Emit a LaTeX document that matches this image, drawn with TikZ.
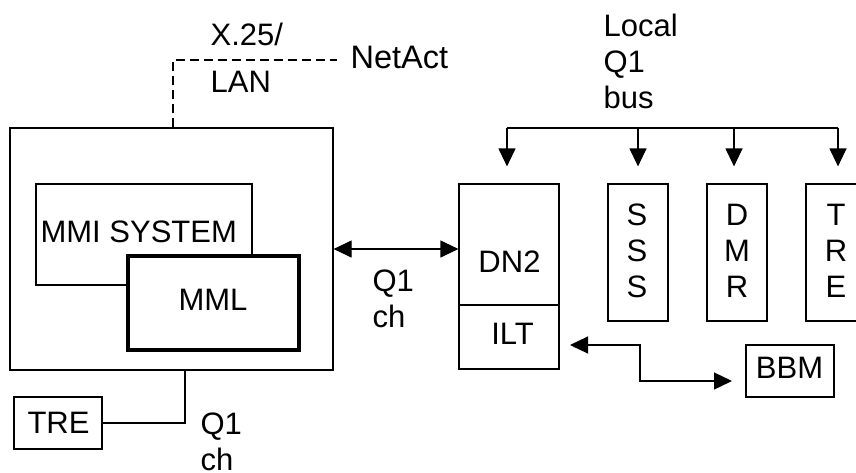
\documentclass[tikz,border=0pt]{standalone}
\usepackage{fontspec}
\setmainfont{Liberation Sans}
\usetikzlibrary{arrows.meta}

\tikzset{
  box/.style={draw, line width=1.2pt, inner sep=0pt},
  lbl/.style={inner sep=0pt, font=\fontsize{31}{36}\selectfont},
  arr/.style={-{Triangle[length=18pt, width=17pt]}},
  both/.style={{Triangle[length=18pt, width=17pt]}-{Triangle[length=18pt, width=17pt]}},
}

\begin{document}
\begin{tikzpicture}[x=1pt, y=-1pt, line width=1.2pt]
  \clip (0,0) rectangle (856,472);

  % MMI unit
  \node[box, minimum width=323pt, minimum height=242pt] (mmi) at (171.5,249) {};
  \node[box, minimum width=216pt, minimum height=101pt] (mmisys) at (144,234.5) {};
  \node[box, fill=white, line width=3.3pt, minimum width=171pt, minimum height=94pt] (mml) at (213.5,303) {};
  \node[lbl, anchor=base west] (mmisystxt) at (40,242) {MMI SYSTEM};
  \node[lbl, anchor=base] (mmltxt) at (213,310) {MML};

  % DN2 / ILT and the bus units
  \node[box, minimum width=100pt, minimum height=121pt] (dn2) at (509,244.5) {};
  \node[box, minimum width=100pt, minimum height=64pt] (ilt) at (509,337) {};
  \node[lbl, anchor=base] (dn2txt) at (509.5,272) {DN2};
  \node[lbl, anchor=base] (ilttxt) at (512.5,344) {ILT};

  \node[box, minimum width=60pt, minimum height=137pt] (sss) at (638,252.5) {};
  \node[box, minimum width=60pt, minimum height=137pt] (dmr) at (737,252.5) {};
  \node[box, minimum width=60pt, minimum height=137pt] (tre) at (836,252.5) {};
  \node[lbl, anchor=base, align=center] (ssstxt) at (637,297) {S\\S\\S};
  \node[lbl, anchor=base, align=center] (dmrtxt) at (737,297) {D\\M\\R};
  \node[lbl, anchor=base, align=center] (tretxt) at (836,297) {T\\R\\E};

  \node[box, minimum width=88pt, minimum height=52pt] (bbm) at (790,371) {};
  \node[lbl, anchor=base] (bbmtxt) at (789.5,378) {BBM};

  \node[box, minimum width=88pt, minimum height=52pt] (tre2) at (58,423) {};
  \node[lbl, anchor=base] (tre2txt) at (58.5,433) {TRE};

  % labels
  \node[lbl, anchor=base west, align=left] (lan) at (210,92) {X.25/\\[11pt]LAN};
  \node[lbl, anchor=base west, font=\fontsize{32.5}{36}\selectfont] (netact) at (350,68) {NetAct};
  \node[lbl, anchor=base west, align=left] (localbus) at (603,108) {Local\\Q1\\bus};
  \node[lbl, anchor=base west, align=left] (q1ch) at (372,327) {Q1\\ch};
  \node[lbl, anchor=base west, align=left] (q1ch2) at (200,470) {Q1\\ch};

  % connectors
  \coordinate (lancorner) at (173,60);
  \coordinate (lanend) at (337,60);
  \draw[dash pattern=on 9pt off 5pt] (lancorner |- mmi.north) -- (lancorner) -- (lanend);

  \coordinate (busL) at (507,128);
  \coordinate (busR) at (838,128);
  \draw (busL) -- (busR);
  \draw[arr] (busL) -- ([yshift=17pt]busL |- dn2.north);
  \draw[arr] (sss.north |- busL) -- ([yshift=17pt]sss.north);
  \draw[arr] ([xshift=-3pt]dmr.north |- busL) -- ([xshift=-3pt, yshift=17pt]dmr.north);
  \draw[arr] (busR) -- ([yshift=17pt]busR |- tre.north);

  \draw[both] (mmi.east) -- (mmi.east -| dn2.west);

  \coordinate (iltin) at (570,345);
  \coordinate (bend) at (640,345);
  \coordinate (bbmin) at (732,381);
  \draw[both] (iltin) -- (bend) |- (bbmin);

  \coordinate (drop) at (185,370);
  \draw (tre2.east) -| (drop);
\end{tikzpicture}
\end{document}
